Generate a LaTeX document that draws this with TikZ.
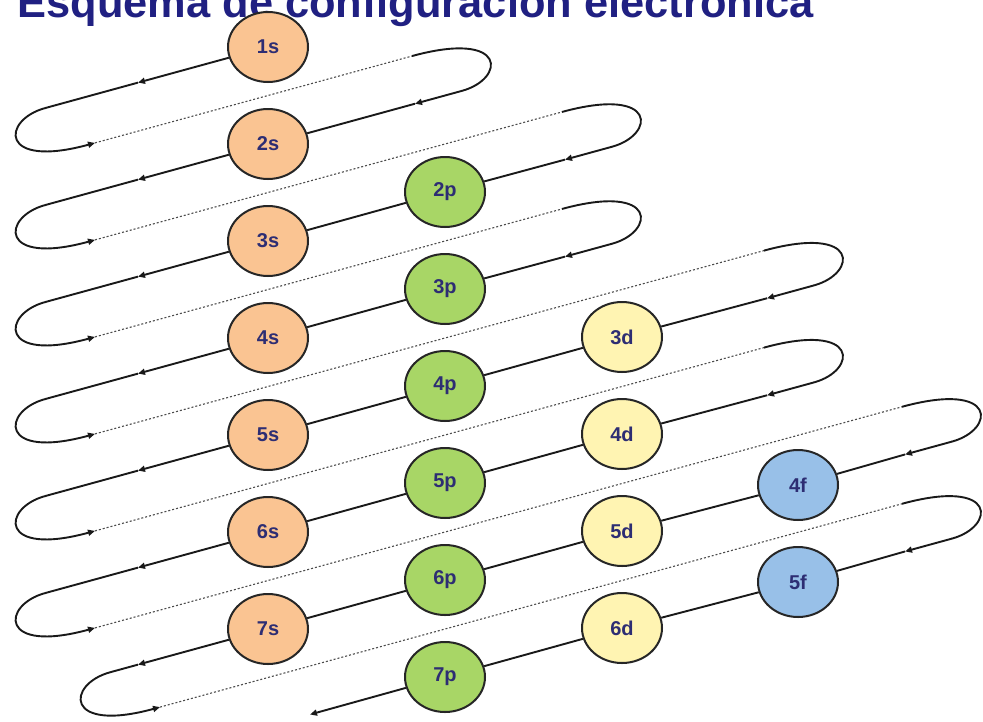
\documentclass[tikz,border=0pt]{standalone}
\usepackage{fontspec}
\setmainfont{Liberation Sans}
\usetikzlibrary{shapes.geometric,arrows.meta,calc}
\definecolor{sfill}{RGB}{250,196,146}
\definecolor{pfill}{RGB}{168,214,102}
\definecolor{dfill}{RGB}{255,244,178}
\definecolor{ffill}{RGB}{152,192,232}
\definecolor{lbl}{RGB}{45,45,115}
\definecolor{ttl}{RGB}{32,32,130}
\begin{document}
\begin{tikzpicture}[x=1pt,y=-1pt,
  declare function={yD(\n,\x)=47+97*(\n-1)-0.274*(\x-268); yE(\n,\x)=47+97*(\n-1)+48.5-0.274*(\x-268);},
  orb/.style={ellipse,draw=black!85,line width=2pt,minimum width=80pt,minimum height=70pt,inner sep=0pt,font=\fontsize{20}{20}\selectfont\bfseries,text=lbl},
  sorb/.style={orb,fill=sfill},
  porb/.style={orb,fill=pfill},
  dorb/.style={orb,fill=dfill},
  forb/.style={orb,fill=ffill},
  solidln/.style={line width=1.9pt,draw=black!90},
  arr/.style={solidln,-{Triangle[length=7pt,width=6pt]}},
  dotln/.style={line width=1.1pt,draw=black!70,dash pattern=on 2pt off 2pt},
]
\useasboundingbox (0,0) rectangle (983,721);
\clip (0,0) rectangle (983,721);
\fill[white] (0,0) rectangle (983,721);

\node[anchor=base,inner sep=0pt,text=ttl,font=\fontsize{43.4}{44}\selectfont\bfseries] (title) at (415.5,17) {Esquema de configuración electrónica};

% orbitals
\node[sorb] (s1) at (268,47) {1s};
\node[sorb] (s2) at (268,144) {2s};
\node[sorb] (s3) at (268,241) {3s};
\node[sorb] (s4) at (268,338) {4s};
\node[sorb] (s5) at (268,435) {5s};
\node[sorb] (s6) at (268,532) {6s};
\node[sorb] (s7) at (268,629) {7s};
\node[porb] (p2) at (445,192) {2p};
\node[porb] (p3) at (445,289) {3p};
\node[porb] (p4) at (445,386) {4p};
\node[porb] (p5) at (445,483) {5p};
\node[porb] (p6) at (445,580) {6p};
\node[porb] (p7) at (445,677) {7p};
\node[dorb] (d3) at (622,337) {3d};
\node[dorb] (d4) at (622,434) {4d};
\node[dorb] (d5) at (622,531) {5d};
\node[dorb] (d6) at (622,628) {6d};
\node[forb] (f4) at (798,485) {4f};
\node[forb] (f5) at (798,582) {5f};

% loops
\foreach \n/\xa/\xr in {1/45/490,2/45/640,3/45/640,4/45/842,5/45/842,6/45/980,7/110/980}{
  \pgfmathsetmacro\xb{\xa+50}
  \pgfmathsetmacro\xp{\xr-78}
  \pgfmathsetmacro\xq{\xr-28}
  \pgfmathsetmacro\xn{\xr-75}
  \pgfmathtruncatemacro\m{\n+1}
  \coordinate (M\n) at (138,{yD(\n,138)});
  \coordinate (A\n) at (\xa,{yD(\n,\xa)});
  \coordinate (B\n) at (\xb,{yE(\n,\xb)});
  \coordinate (CA\n) at ({\xa-43.4},{yD(\n,\xa)+11.9});
  \coordinate (CB\n) at ({\xb-96.45},{yE(\n,\xb)+26.43});
  \coordinate (P\n) at (\xp,{yE(\n,\xp)});
  \coordinate (Q\n) at (\xq,{yD(\m,\xq)});
  \coordinate (CP\n) at ({\xp+96.45},{yE(\n,\xp)-26.43});
  \coordinate (CQ\n) at ({\xq+43.4},{yD(\m,\xq)-11.9});
  \coordinate (N\n) at (\xn,{yD(\m,\xn)});
  \draw[arr] (s\n) -- (M\n);
  \draw[solidln] (M\n) -- (A\n);
  \draw[arr] (A\n) .. controls (CA\n) and (CB\n) .. (B\n);
  \draw[dotln] (B\n) -- (P\n);
  \draw[solidln] (P\n) .. controls (CP\n) and (CQ\n) .. (Q\n);
  \draw[arr] (Q\n) -- (N\n);
}
\coordinate (End) at (310,{yD(8,310)});

% diagonals
\draw[solidln] (N1) -- (s2);
\draw[solidln] (N2) -- (p2) (p2) -- (s3);
\draw[solidln] (N3) -- (p3) (p3) -- (s4);
\draw[solidln] (N4) -- (d3) (d3) -- (p4) (p4) -- (s5);
\draw[solidln] (N5) -- (d4) (d4) -- (p5) (p5) -- (s6);
\draw[solidln] (N6) -- (f4) (f4) -- (d5) (d5) -- (p6) (p6) -- (s7);
\draw[solidln] (N7) -- (f5) (f5) -- (d6) (d6) -- (p7);
\draw[arr] (p7) -- (End);
\end{tikzpicture}
\end{document}
